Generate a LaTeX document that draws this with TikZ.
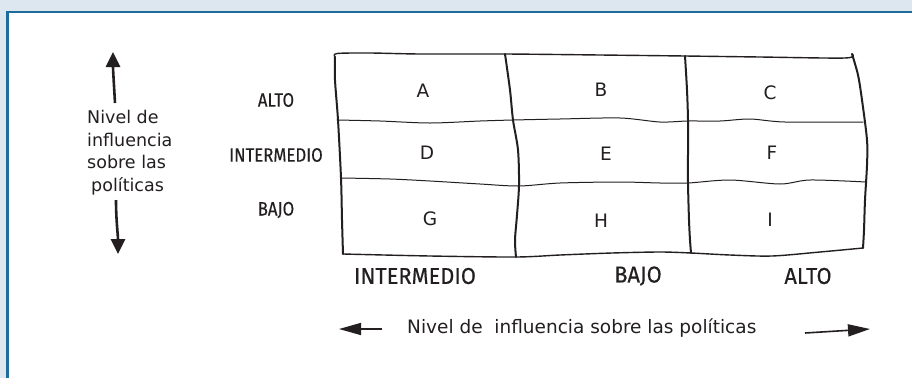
\documentclass[tikz,border=0pt]{standalone}
\usepackage{fontspec}
\usetikzlibrary{arrows.meta}
\newfontfamily\comicf{DejaVu Sans}
\newfontfamily\condf[FakeStretch=0.86,FakeBold=0.25]{Fira Sans}
\newfontfamily\condb[FakeStretch=0.95,FakeBold=0.35]{Fira Sans}
\definecolor{bgblue}{HTML}{DCE7F0}
\definecolor{frameblue}{HTML}{1E6C9C}
\definecolor{ink}{HTML}{231F20}
\begin{document}
\begin{tikzpicture}[x=1pt,y=-1pt,
  cell/.style={font=\comicf\fontsize{18.5}{18.5}\selectfont, text=ink, inner sep=0pt},
  rowlab/.style={font=\condf\fontsize{19.5}{19.5}\selectfont, text=ink, inner sep=0pt},
  collab/.style={font=\condb\fontsize{23}{23}\selectfont, text=ink, inner sep=0pt},
  axislab/.style={font=\comicf\fontsize{17.5}{22.5}\selectfont, text=ink, inner sep=0pt},
  gridthick/.style={draw=ink, line width=2pt, line cap=round, line join=round},
  gridmid/.style={draw=ink, line width=1.4pt, line cap=round, line join=round},
  gridthin/.style={draw=ink, line width=1pt, line cap=round, line join=round},
  fatarrow/.style={draw=ink, line width=2.6pt, -{Triangle[length=15pt,width=14pt]}},
  slimarrow/.style={draw=ink, line width=1.6pt, -{Triangle[length=22pt,width=12pt]}}
]
\useasboundingbox (0,0) rectangle (912,378);
% frame
\fill[bgblue] (0,0) rectangle (912,378);
\fill[white] (8,13) rectangle (912,378);
\draw[frameblue, line width=2.6pt] (7.2,378) -- (7.2,11.8) -- (912,11.8);

% grid
\draw[gridmid] plot[smooth,tension=.5] coordinates {(335,57) (337,53.5) (370,53) (420,54) (505,54) (600,55) (685,56) (760,57) (845,58) (852,54)};
\draw[gridthick] plot[smooth,tension=.5] coordinates {(335,57) (335,80) (338,120) (341,178) (342,220) (343,254)};
\draw[gridthick] plot[smooth,tension=.5] coordinates {(852,54) (858,75) (862,100) (867,140) (867,165) (865,200) (864,230) (863,248)};
\draw[gridmid] plot[smooth,tension=.5] coordinates {(343,254) (430,256) (516,257) (560,255) (612,253) (660,252) (691,253) (730,255) (772,256) (820,252) (863,248)};
\draw[gridthick] plot[smooth,tension=.5] coordinates {(505,54) (510,90) (513,120) (518,150) (519,185) (517,215) (515,240) (516,257)};
\draw[gridthick] plot[smooth,tension=.5] coordinates {(685,56) (687,90) (688,120) (688,150) (688,183) (689,220) (690,240) (691,253)};
\draw[gridthin] plot[smooth,tension=.5] coordinates {(337,120) (380,121) (430,123) (480,121) (513,120) (560,119) (620,118) (660,122) (688,121) (720,121) (750,119) (785,122) (863,122)};
\draw[gridthin] plot[smooth,tension=.5] coordinates {(341,178) (390,179) (430,181) (480,184) (519,186) (560,183) (620,182) (660,183) (688,183) (730,180) (780,184) (810,180) (866,182)};

% cell letters
\node[cell] (cA) at (423,91) {A};
\node[cell] (cB) at (601,90) {B};
\node[cell] (cC) at (770,93) {C};
\node[cell] (cD) at (427,153) {D};
\node[cell] (cE) at (606,154) {E};
\node[cell] (cF) at (772,153) {F};
\node[cell] (cG) at (430,219) {G};
\node[cell] (cH) at (601,221) {H};
\node[cell] (cI) at (770,220) {I};

% row labels
\node[rowlab] (rAlto) at (276,100) {ALTO};
\node[rowlab] (rInt) at (276,155) {INTERMEDIO};
\node[rowlab] (rBajo) at (276,210) {BAJO};

% column labels
\node[collab] (kInt) at (415,276) {INTERMEDIO};
\node[collab] (kBajo) at (638,276) {BAJO};
\node[collab] (kAlto) at (808,276) {ALTO};

% vertical axis
\node[axislab, align=left, anchor=north west] (vtext) at (87,110) {Nivel de\\influencia\\sobre las\\\hspace*{4pt}políticas};
\coordinate (upS) at (115,103);
\coordinate (upT) at (113,52);
\coordinate (dnS) at (116,200);
\coordinate (dnT) at (118,254);
\draw[fatarrow] (upS) .. controls (114,85) and (113,70) .. (upT);
\draw[fatarrow] (dnS) .. controls (116,220) and (118,235) .. (dnT);

% horizontal axis
\node[axislab, font=\comicf\fontsize{18.5}{22}\selectfont, anchor=base west] (htext) at (407,333) {Nivel de~ influencia sobre las políticas};
\coordinate (lfS) at (382,329);
\coordinate (lfT) at (339,329);
\coordinate (rtS) at (805,333);
\coordinate (rtT) at (870,329);
\draw[slimarrow] (lfS) -- (lfT);
\draw[slimarrow] (rtS) -- (rtT);
\end{tikzpicture}
\end{document}
